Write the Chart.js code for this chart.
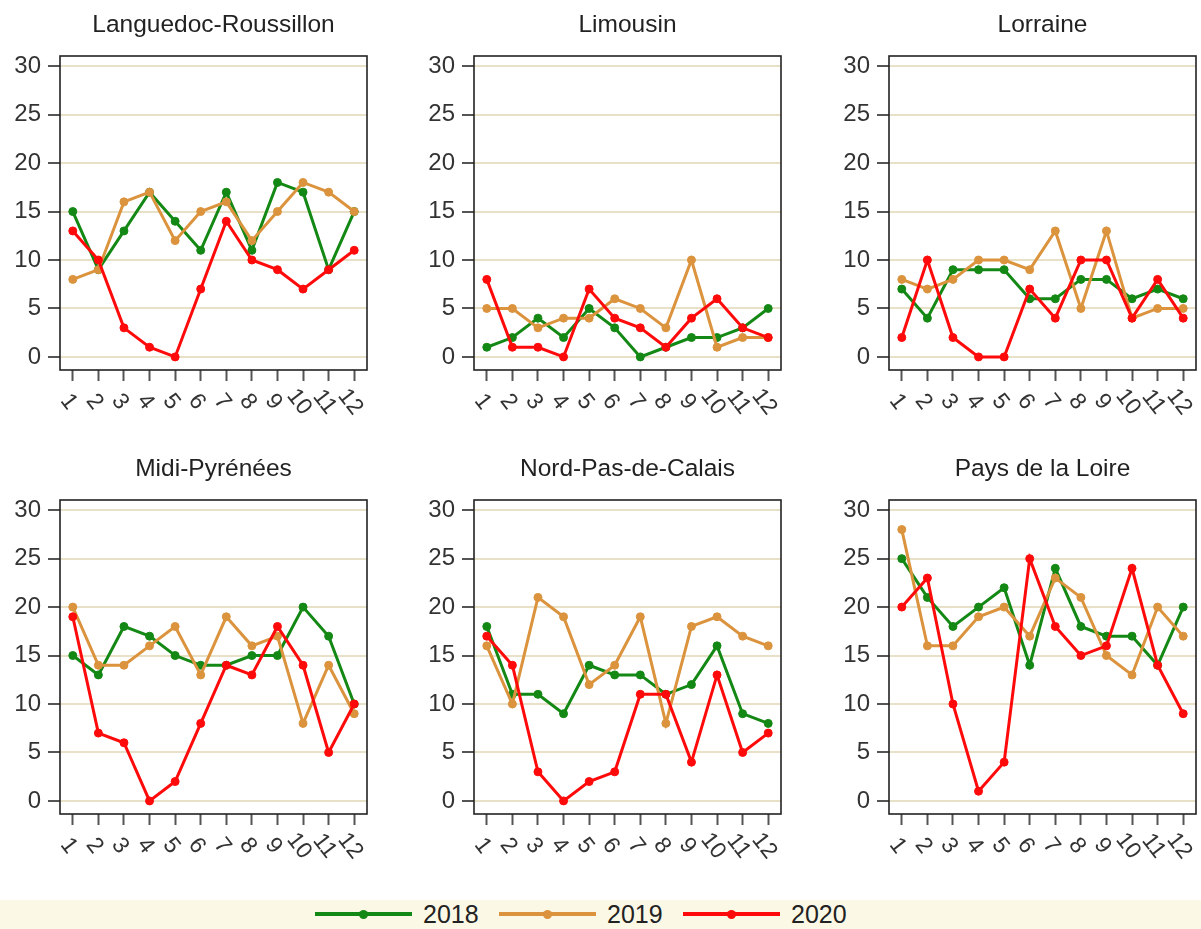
<!DOCTYPE html>
<html><head><meta charset="utf-8">
<script src="https://cdn.jsdelivr.net/npm/chart.js@4.4.1/dist/chart.umd.min.js"></script>
<style>
html,body{margin:0;padding:0;background:#fff;width:1201px;height:929px;overflow:hidden;font-family:'Liberation Sans',Arial,sans-serif;}
canvas.panel{position:absolute;}
#legend{position:absolute;left:0;top:900px;width:1201px;height:29px;background:#fbf8e6;}
.lline{position:absolute;top:12px;width:97px;height:4px;}
.ldot{position:absolute;top:9.5px;width:9px;height:9px;border-radius:50%;}
.ltext{position:absolute;top:0;height:29px;line-height:29px;font-size:25px;color:#222;}
</style></head>
<body>
<div id="wrap"></div>
<div id="legend"></div>
<script>
const months = ['1','2','3','4','5','6','7','8','9','10','11','12'];
const years = ['2018','2019','2020'];
const yTicks = [0,5,10,15,20,25,30];
const regions = ['Languedoc-Roussillon','Limousin','Lorraine','Midi-Pyrénées','Nord-Pas-de-Calais','Pays de la Loire'];

const languedoc2018 = [15,9,13,17,14,11,17,11,18,17,9,15];
const languedoc2019 = [8,9,16,17,12,15,16,12,15,18,17,15];
const languedoc2020 = [13,10,3,1,0,7,14,10,9,7,9,11];

const limousin2018 = [1,2,4,2,5,3,0,1,2,2,3,5];
const limousin2019 = [5,5,3,4,4,6,5,3,10,1,2,2];
const limousin2020 = [8,1,1,0,7,4,3,1,4,6,3,2];

const lorraine2018 = [7,4,9,9,9,6,6,8,8,6,7,6];
const lorraine2019 = [8,7,8,10,10,9,13,5,13,4,5,5];
const lorraine2020 = [2,10,2,0,0,7,4,10,10,4,8,4];

const midi2018 = [15,13,18,17,15,14,14,15,15,20,17,10];
const midi2019 = [20,14,14,16,18,13,19,16,17,8,14,9];
const midi2020 = [19,7,6,0,2,8,14,13,18,14,5,10];

const nord2018 = [18,11,11,9,14,13,13,11,12,16,9,8];
const nord2019 = [16,10,21,19,12,14,19,8,18,19,17,16];
const nord2020 = [17,14,3,0,2,3,11,11,4,13,5,7];

const pays2018 = [25,21,18,20,22,14,24,18,17,17,14,20];
const pays2019 = [28,16,16,19,20,17,23,21,15,13,20,17];
const pays2020 = [20,23,10,1,4,25,18,15,16,24,14,9];

const seriesByRegion = [
  [languedoc2018, languedoc2019, languedoc2020],
  [limousin2018, limousin2019, limousin2020],
  [lorraine2018, lorraine2019, lorraine2020],
  [midi2018, midi2019, midi2020],
  [nord2018, nord2019, nord2020],
  [pays2018, pays2019, pays2020]
];

const colors = ['#148814','#db933d','#ff0a0a'];
const FONT = "'Liberation Sans', Arial, sans-serif";

const framePlugin = {
  id:'frame',
  beforeDatasetsDraw(chart){
    const {left,top,right,bottom} = chart.chartArea;
    const ctx = chart.ctx;
    ctx.save();
    ctx.strokeStyle = '#222';
    ctx.lineWidth = 1.6;
    ctx.strokeRect(left, top, right-left, bottom-top);
    ctx.restore();
  }
};

const rotatedXLabels = {
  id:'rotatedXLabels',
  afterDraw(chart){
    const sx = chart.scales.x;
    const ctx = chart.ctx;
    ctx.save();
    ctx.font = '23px ' + FONT;
    ctx.fillStyle = '#333';
    ctx.textAlign = 'center';
    ctx.textBaseline = 'middle';
    sx.ticks.forEach((t,i)=>{
      const x = sx.getPixelForTick(i) - 4;
      const y = sx.top + 32;
      ctx.save();
      ctx.translate(x,y);
      ctx.rotate(52*Math.PI/180);
      ctx.fillText(sx.getLabelForValue(t.value), 0, 0);
      ctx.restore();
    });
    ctx.restore();
  }
};

const lefts = [0,414,829];
const tops = [0,444];
const wrap = document.getElementById('wrap');

regions.forEach((name, idx)=>{
  const c = document.createElement('canvas');
  c.className = 'panel';
  c.width = 372; c.height = 440;
  c.style.width = '372px'; c.style.height = '440px';
  c.style.left = lefts[idx%3] + 'px';
  c.style.top = tops[Math.floor(idx/3)] + 'px';
  wrap.appendChild(c);
  const series = seriesByRegion[idx];
  new Chart(c, {
    type:'line',
    data:{
      labels: months,
      datasets: years.map((yr,k)=>({
        label: yr,
        data: series[k],
        borderColor: colors[k],
        backgroundColor: colors[k],
        pointBackgroundColor: colors[k],
        pointBorderColor: colors[k],
        borderWidth: 3,
        pointRadius: 4,
        pointBorderWidth: 1,
        tension: 0,
        order: 3-k
      }))
    },
    options:{
      responsive:false,
      animation:false,
      devicePixelRatio:1,
      layout:{padding:{left:0,right:5,top:0,bottom:0}},
      plugins:{
        legend:{display:false},
        tooltip:{enabled:false},
        title:{display:true, text:name, fullSize:false, color:'#222',
          font:{family:FONT, size:24.5, weight:'normal'}, padding:{top:11,bottom:15.6}}
      },
      scales:{
        x:{
          type:'category', offset:true,
          grid:{drawOnChartArea:false, drawTicks:true, tickLength:11, tickColor:'#555', tickWidth:2},
          border:{display:false},
          ticks:{display:false},
          afterFit(s){ s.height = 70; }
        },
        y:{
          min:-1.35, max:31.05,
          afterBuildTicks(s){ s.ticks = yTicks.map(v=>({value:v})); },
          grid:{color:'#e8e1c8', lineWidth:2, tickLength:12, tickColor:'#555', tickWidth:2},
          border:{display:false},
          ticks:{color:'#333', font:{family:FONT, size:24}, padding:7},
          afterFit(s){ s.width = 60; }
        }
      }
    },
    plugins:[framePlugin, rotatedXLabels]
  });
});

// legend
const legend = document.getElementById('legend');
const legendLefts = [315, 499, 683];
years.forEach((yr,k)=>{
  const l = legendLefts[k];
  const line = document.createElement('div');
  line.className = 'lline'; line.style.left = l+'px'; line.style.background = colors[k];
  const dot = document.createElement('div');
  dot.className = 'ldot'; dot.style.left = (l+44)+'px'; dot.style.background = colors[k];
  const txt = document.createElement('div');
  txt.className = 'ltext'; txt.style.left = (l+108)+'px'; txt.textContent = yr;
  legend.appendChild(line); legend.appendChild(dot); legend.appendChild(txt);
});
</script>
</body></html>
